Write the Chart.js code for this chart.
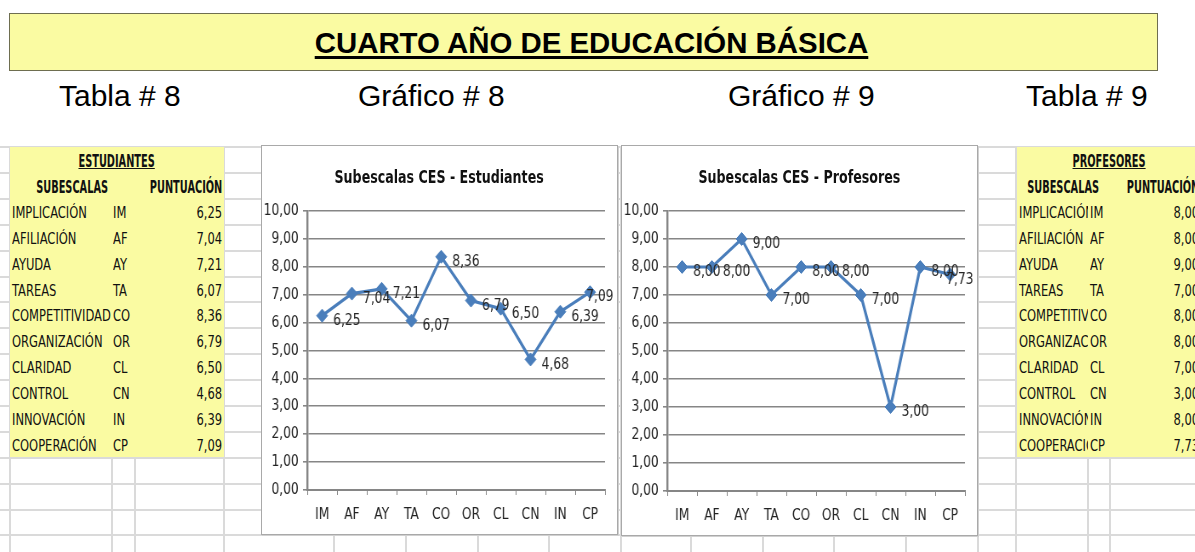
<!DOCTYPE html>
<html lang="es">
<head>
<meta charset="utf-8">
<title>Cuarto año de educación básica</title>
<script src="https://cdn.jsdelivr.net/npm/chart.js"></script>
<style>
  body { margin: 0; width: 1195px; height: 552px; overflow: hidden; background: #fff; position: relative;
         font-family: "DejaVu Sans Condensed", "DejaVu Sans", sans-serif; }
  .abs { position: absolute; }
  .banner { left: 9px; top: 13px; width: 1147px; height: 56px; background: #fafba2; border: 1px solid #6e6e50;
            font: bold 29.4px "Liberation Sans", Arial, sans-serif; text-align: center; line-height: 58px; }
  .banner span { text-decoration: underline; text-decoration-thickness: 3px; text-underline-offset: 3px; padding-left: 16px; }
  .sub { top: 79px; font: 30px "Liberation Sans", Arial, sans-serif; white-space: nowrap; }
  .hline { height: 2px; background: #dadada; left: 0; width: 1195px; }
  .vline { width: 2px; background: #dadada; top: 146px; height: 406px; }
  .tbl { background: #fafba2; overflow: hidden; }
  .cell { position: absolute; height: 26px; line-height: 28px; font-size: 16px; color: #111; white-space: nowrap;
          display: flex; justify-content: flex-start; }
  .cell span { display: inline-block; flex: none; transform: scaleX(0.8); transform-origin: left center; }
  .clip { overflow: hidden; }
  .b { font-weight: bold; font-size: 17px; }
  .b span { transform: scaleX(0.64); }
  .u span { text-decoration: underline; }
  .r { justify-content: flex-end; }
  .r span { transform-origin: right center; }
  .c { justify-content: center; }
  .c span { transform-origin: center center; }
  .frame { background: #fff; border: 1px solid #a9a9a9; box-shadow: 1px 1px 0 #d0d0d0; }
  .frame canvas { position: absolute; left: 1px; top: 1px; }
  .ctitle { position: absolute; left: 0; right: 0; top: 20px; height: 22px; line-height: 22px; text-align: center;
            font-weight: bold; font-size: 18px; color: #111; }
  .ctitle span { display: inline-block; transform: scaleX(0.78); white-space: nowrap; }
</style>
</head>
<body>
<div class="abs banner"><span>CUARTO AÑO DE EDUCACIÓN BÁSICA</span></div>
<div class="abs sub" style="left:59px">Tabla # 8</div>
<div class="abs sub" style="left:358px">Gráfico # 8</div>
<div class="abs sub" style="left:728px">Gráfico # 9</div>
<div class="abs sub" style="left:1026px">Tabla # 9</div>
<div id="grid"></div>
<div id="left" class="abs tbl" style="left:10px;top:147px;width:214px;height:310px"></div>
<div id="right" class="abs tbl" style="left:1017px;top:147px;width:178px;height:310px"></div>
<div class="abs frame" style="left:261px;top:145px;width:355px;height:388px">
  <canvas id="chart8" width="415" height="386" style="width:353px;height:386px"></canvas>
  <div class="ctitle"><span>Subescalas CES - Estudiantes</span></div>
</div>
<div class="abs frame" style="left:621px;top:145px;width:355px;height:389px">
  <canvas id="chart9" width="415" height="387" style="width:353px;height:387px"></canvas>
  <div class="ctitle"><span>Subescalas CES - Profesores</span></div>
</div>
<script>
const categories = ['IM', 'AF', 'AY', 'TA', 'CO', 'OR', 'CL', 'CN', 'IN', 'CP'];
const subscaleNames = ['IMPLICACIÓN', 'AFILIACIÓN', 'AYUDA', 'TAREAS', 'COMPETITIVIDAD', 'ORGANIZACIÓN', 'CLARIDAD', 'CONTROL', 'INNOVACIÓN', 'COOPERACIÓN'];
const studentScores = [6.25, 7.04, 7.21, 6.07, 8.36, 6.79, 6.50, 4.68, 6.39, 7.09];
const teacherScores = [8.00, 8.00, 9.00, 7.00, 8.00, 8.00, 7.00, 3.00, 8.00, 7.73];
const yMin = 0, yMax = 10, yStep = 1;

const fmt = v => v.toFixed(2).replace('.', ',');
const FONT = '"DejaVu Sans Condensed", "DejaVu Sans", sans-serif';
const ROW = 25.9;

// spreadsheet grid behind everything
const grid = document.getElementById('grid');
for (let y = 146; y < 552; y += ROW) {
  const d = document.createElement('div');
  d.className = 'abs hline';
  d.style.top = Math.round(y) + 'px';
  grid.appendChild(d);
}
[9, 111, 134, 223, 333, 405, 477, 548, 620, 690, 762, 833, 905, 977, 1015, 1087, 1109].forEach(x => {
  const d = document.createElement('div');
  d.className = 'abs vline';
  d.style.left = x + 'px';
  grid.appendChild(d);
});

function cell(parent, row, left, width, text, cls) {
  const d = document.createElement('div');
  d.className = 'cell ' + (cls || '');
  d.style.top = (row * ROW) + 'px';
  d.style.left = left + 'px';
  d.style.width = width + 'px';
  const s = document.createElement('span');
  s.textContent = text;
  d.appendChild(s);
  parent.appendChild(d);
}

function buildTable(el, heading, scores, cols, clipNames) {
  cell(el, 0, 0, cols.total, heading, 'b u c');
  cell(el, 1, 0, cols.nameHead, 'SUBESCALAS', 'b c');
  cell(el, 1, cols.valLeft, cols.valW, 'PUNTUACIÓN', 'b r');
  subscaleNames.forEach((name, i) => {
    cell(el, i + 2, 2, cols.nameW, name, clipNames ? 'clip' : '');
    cell(el, i + 2, cols.abbrLeft, 22, categories[i]);
    cell(el, i + 2, cols.valLeft, cols.valW, fmt(scores[i]), 'r');
  });
}

buildTable(document.getElementById('left'), 'ESTUDIANTES', studentScores,
  { total: 214, nameHead: 125, nameW: 100, abbrLeft: 103, valLeft: 125, valW: 87 }, false);
buildTable(document.getElementById('right'), 'PROFESORES', teacherScores,
  { total: 184, nameHead: 93, nameW: 69, abbrLeft: 73, valLeft: 95, valW: 87 }, true);

// the canvases are drawn wider than shown, so the text comes out narrow like the original
const pointLabels = {
  id: 'pointLabels',
  afterDatasetsDraw(chart) {
    const ctx = chart.ctx;
    const ds = chart.data.datasets[0];
    ctx.save();
    ctx.font = '16px ' + FONT;
    ctx.fillStyle = '#262626';
    ctx.textBaseline = 'middle';
    chart.getDatasetMeta(0).data.forEach((pt, i) => {
      const txt = fmt(ds.data[i]);
      const w = ctx.measureText(txt).width;
      let x = pt.x + 13;
      if (x + w > chart.width - 3) x = chart.width - 3 - w;
      ctx.fillText(txt, x, pt.y + 5);
    });
    ctx.restore();
  }
};

function drawChart(id, data) {
  return new Chart(document.getElementById(id), {
    type: 'line',
    data: {
      labels: categories,
      datasets: [{
        data: data,
        borderColor: '#4a7ebb',
        backgroundColor: '#4a7ebb',
        borderWidth: 3.2,
        pointStyle: 'rectRot',
        pointRadius: 6.5,
        pointBorderWidth: 1,
        tension: 0
      }]
    },
    options: {
      responsive: false,
      animation: false,
      layout: { padding: { top: 64, left: 0, right: 13, bottom: 0 } },
      plugins: {
        legend: { display: false },
        tooltip: { enabled: false },
        title: { display: false }
      },
      scales: {
        x: {
          offset: true,
          grid: { offset: true, drawOnChartArea: false, color: '#868686', tickLength: 5 },
          border: { color: '#868686', width: 2 },
          ticks: { color: '#222', font: { family: FONT, size: 16 }, padding: 10 },
          afterFit(s) { s.height = 43; }
        },
        y: {
          min: yMin,
          max: yMax,
          ticks: { stepSize: yStep, color: '#222', font: { family: FONT, size: 16 }, padding: 5, callback: v => fmt(v) },
          grid: { color: '#868686', lineWidth: 1.6, tickLength: 5 },
          border: { color: '#868686', width: 2.4 },
          afterFit(s) { s.width = 52; }
        }
      }
    },
    plugins: [pointLabels]
  });
}

drawChart('chart8', studentScores);
drawChart('chart9', teacherScores);
</script>
</body>
</html>
